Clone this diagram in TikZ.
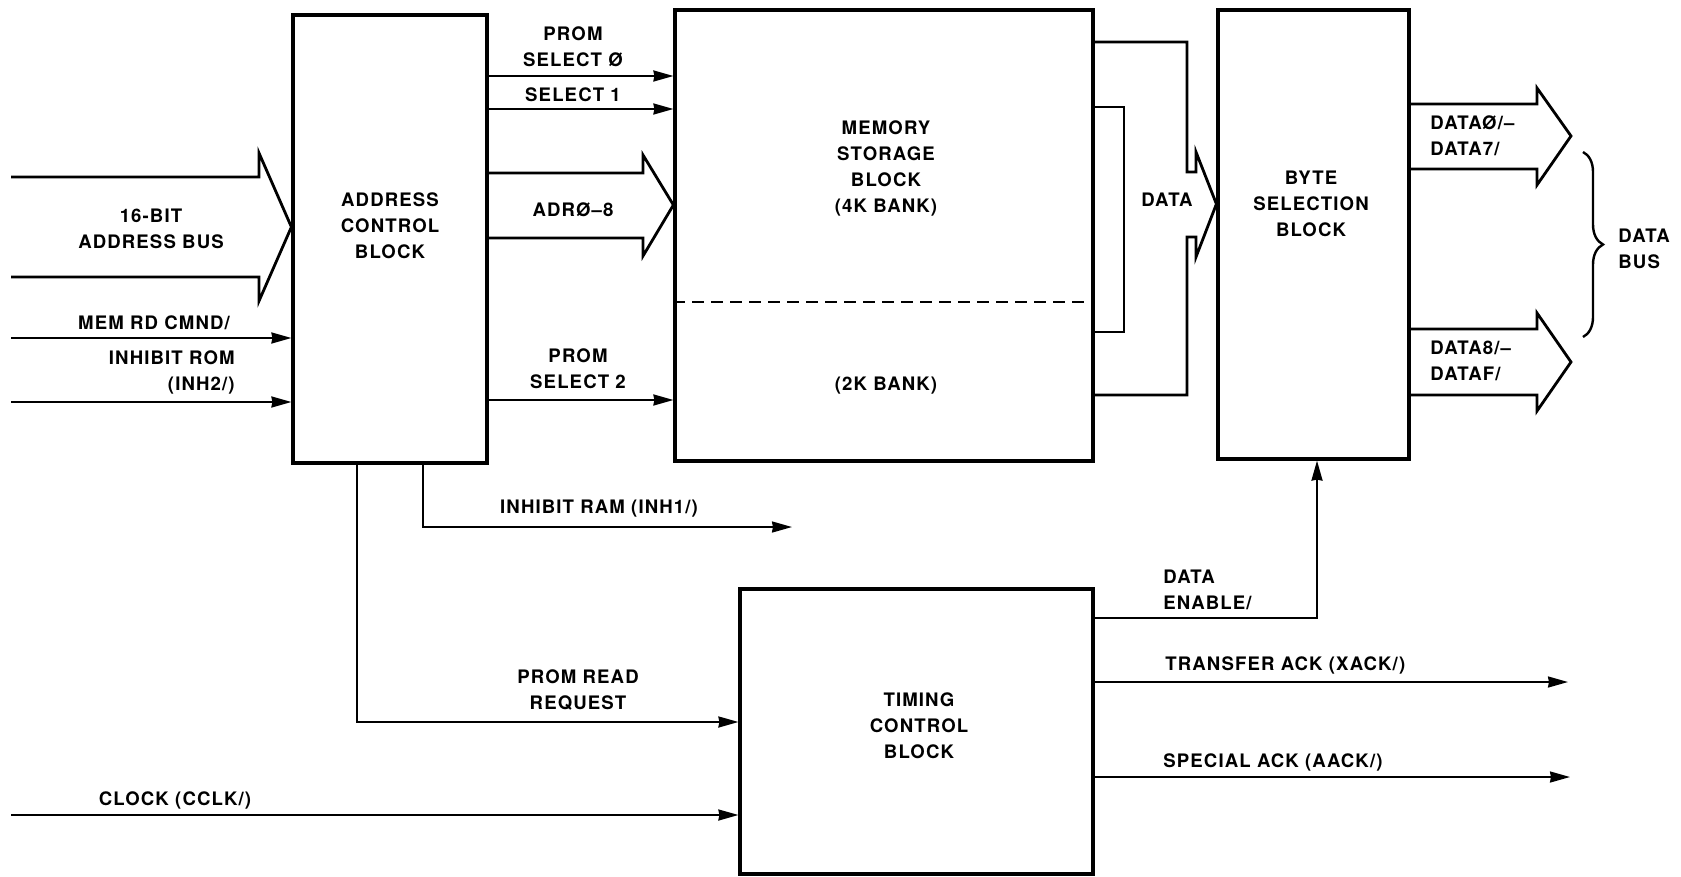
\documentclass[tikz,border=0pt]{standalone}
\usepackage{fontspec}
\newfontfamily\diagfont{TeX Gyre Heros}[LetterSpace=6]
\usetikzlibrary{arrows.meta,calc,fit,decorations.pathreplacing}
\tikzset{
  block/.style={draw,line width=1.6pt,inner sep=0pt},
  sig/.style={-{Stealth[length=10pt,width=5.5pt,inset=0.5pt]},line width=1pt},
  bus/.style={line width=1.4pt,line join=miter},
  sep/.style={dashed,dash pattern=on 6pt off 3.5pt,line width=1pt},
  lbl/.style={font=\diagfont\bfseries\fontsize{9.3}{13}\selectfont,align=center,inner sep=0pt},
  lbll/.style={lbl,align=left,anchor=west}
}
\begin{document}
\begin{tikzpicture}[x=0.5pt,y=-0.5pt]
  \useasboundingbox (0,0) rectangle (1681,877);
  % blocks
  \node[block, fit={(293,15) (487,463)}] (addr) {};
  \node[block, fit={(675,10) (1093,461)}] (mem) {};
  \node[block, fit={(1218,10) (1409,459)}] (byte) {};
  \node[block, fit={(740,589) (1093,874)}] (timing) {};
  \draw[sep] (mem.west |- 0,302) -- (mem.east |- 0,302);
  \node[lbl] (addrtxt) at (390,226) {ADDRESS\\CONTROL\\BLOCK};
  \node[lbl] (memtxt) at (886,168) {MEMORY\\STORAGE\\BLOCK\\(4K BANK)};
  \node[lbl] (bank2k) at (886,386) {(2K BANK)};
  \node[lbl] (bytetxt) at (1311,204) {BYTE\\SELECTION\\BLOCK};
  \node[lbl] (timtxt) at (919,726) {TIMING\\CONTROL\\BLOCK};
  % wide buses
  \draw[bus] (11,177) -- (259,177) -- (259,153) -- (addr.west |- 0,227)
    -- (259,301) -- (259,277) -- (11,277);
  \draw[bus] (addr.east |- 0,173) -- (643,173) -- (643,155) -- (mem.west |- 0,205)
    -- (643,256) -- (643,238) -- (addr.east |- 0,238);
  \draw[bus] (mem.east |- 0,42) -| (1187,172) -- (1196,172) -- (1196,152)
    -- (byte.west |- 0,204) -- (1196,257) -- (1196,237) -- (1187,237) |- (mem.east |- 0,395);
  \draw[bus] (mem.east |- 0,107) -| (1124,332) -- (mem.east |- 0,332);
  \draw[bus] (byte.east |- 0,104) -- (1537,104) -- (1537,88) -- (1571,136)
    -- (1537,185) -- (1537,169) -- (byte.east |- 0,169);
  \draw[bus] (byte.east |- 0,329) -- (1537,329) -- (1537,313) -- (1571,362)
    -- (1537,411) -- (1537,395) -- (byte.east |- 0,395);
  \draw[decorate,decoration={brace,amplitude=10pt},line width=1.2pt] (1583,152) -- (1583,337);
  % single lines
  \coordinate (memrd) at (11,338);
  \coordinate (inh2) at (11,402);
  \coordinate (cclk) at (11,815);
  \coordinate (inh1) at (792,527);
  \coordinate (xack) at (1568,682);
  \coordinate (aack) at (1570,777);
  \draw[sig] (memrd) -- (addr.west |- memrd);
  \draw[sig] (inh2) -- (addr.west |- inh2);
  \draw[sig] (addr.east |- 0,76) -- (mem.west |- 0,76);
  \draw[sig] (addr.east |- 0,109) -- (mem.west |- 0,109);
  \draw[sig] (addr.east |- 0,400) -- (mem.west |- 0,400);
  \draw[sig] (addr.south -| 423,0) |- (inh1);
  \draw[sig] (addr.south -| 357,0) |- (timing.west |- 0,722);
  \draw[sig] (cclk) -- (timing.west |- cclk);
  \draw[sig] (timing.east |- 0,618) -| (byte.south -| 1317,0);
  \draw[sig] (timing.east |- xack) -- (xack);
  \draw[sig] (timing.east |- aack) -- (aack);
  % labels
  \node[lbl] (bustxt) at (151,229) {16-BIT\\ADDRESS BUS};
  \node[lbl] (memrdtxt) at (154,323) {MEM RD CMND/};
  \node[lbl, align=right, anchor=east] (inh2txt) at (235,372) {INHIBIT ROM\\(INH2/)};
  \node[lbl] (sel0txt) at (573,47) {PROM\\SELECT Ø};
  \node[lbl] (sel1txt) at (573,95) {SELECT 1};
  \node[lbl] (adrtxt) at (573,210) {ADRØ–8};
  \node[lbl] (sel2txt) at (578,369) {PROM\\SELECT 2};
  \node[lbl] (inh1txt) at (599,509) {INHIBIT RAM (INH1/)};
  \node[lbl] (readtxt) at (578,690) {PROM READ\\REQUEST};
  \node[lbl] (cclktxt) at (175,800) {CLOCK (CCLK/)};
  \node[lbl] (datatxt) at (1167,200) {DATA};
  \node[lbll] (lotxt) at (1430,136) {DATAØ/–\\DATA7/};
  \node[lbll] (hitxt) at (1430,361) {DATA8/–\\DATAF/};
  \node[lbll] (dbustxt) at (1618,249) {DATA\\BUS};
  \node[lbll] (entxt) at (1163,590) {DATA\\ENABLE/};
  \node[lbll] (xacktxt) at (1165,665) {TRANSFER ACK (XACK/)};
  \node[lbll] (aacktxt) at (1163,762) {SPECIAL ACK (AACK/)};
\end{tikzpicture}
\end{document}
